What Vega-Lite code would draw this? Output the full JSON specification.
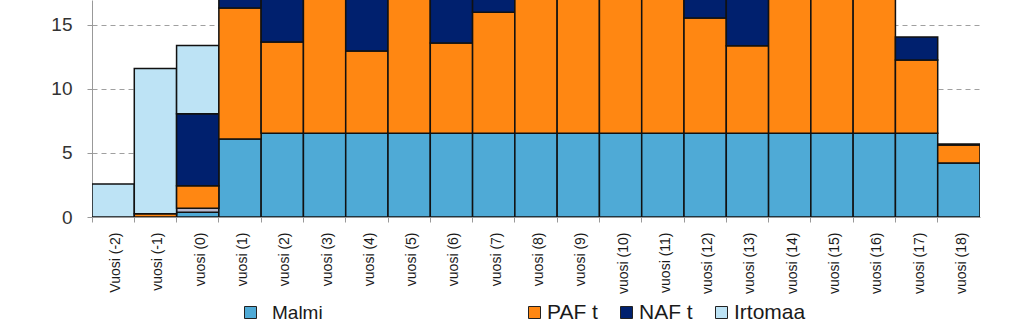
{
  "$schema": "https://vega.github.io/schema/vega-lite/v6.json",
  "width": 888,
  "height": 217,
  "autosize": "none",
  "padding": {"left": 92, "top": 0, "right": 44, "bottom": 118},
  "background": "white",
  "config": {"view": {"stroke": null}, "font": "Liberation Sans"},
  "data": {"values": [
    {"v": "Vuosi (-2)", "s": "Irtomaa", "o": 5, "y": 2.58},
    {"v": "vuosi (-1)", "s": "PAF t", "o": 3, "y": 0.25},
    {"v": "vuosi (-1)", "s": "Irtomaa", "o": 5, "y": 11.35},
    {"v": "vuosi (0)", "s": "Malmi", "o": 1, "y": 0.38},
    {"v": "vuosi (0)", "s": "muu", "o": 2, "y": 0.3},
    {"v": "vuosi (0)", "s": "PAF t", "o": 3, "y": 1.77},
    {"v": "vuosi (0)", "s": "NAF t", "o": 4, "y": 5.62},
    {"v": "vuosi (0)", "s": "Irtomaa", "o": 5, "y": 5.33},
    {"v": "vuosi (1)", "s": "Malmi", "o": 1, "y": 6.09},
    {"v": "vuosi (1)", "s": "PAF t", "o": 3, "y": 10.24},
    {"v": "vuosi (1)", "s": "NAF t", "o": 4, "y": 2.5},
    {"v": "vuosi (2)", "s": "Malmi", "o": 1, "y": 6.54},
    {"v": "vuosi (2)", "s": "PAF t", "o": 3, "y": 7.13},
    {"v": "vuosi (2)", "s": "NAF t", "o": 4, "y": 4.5},
    {"v": "vuosi (3)", "s": "Malmi", "o": 1, "y": 6.54},
    {"v": "vuosi (3)", "s": "PAF t", "o": 3, "y": 12},
    {"v": "vuosi (4)", "s": "Malmi", "o": 1, "y": 6.54},
    {"v": "vuosi (4)", "s": "PAF t", "o": 3, "y": 6.43},
    {"v": "vuosi (4)", "s": "NAF t", "o": 4, "y": 5},
    {"v": "vuosi (5)", "s": "Malmi", "o": 1, "y": 6.54},
    {"v": "vuosi (5)", "s": "PAF t", "o": 3, "y": 12},
    {"v": "vuosi (6)", "s": "Malmi", "o": 1, "y": 6.54},
    {"v": "vuosi (6)", "s": "PAF t", "o": 3, "y": 7.06},
    {"v": "vuosi (6)", "s": "NAF t", "o": 4, "y": 4.5},
    {"v": "vuosi (7)", "s": "Malmi", "o": 1, "y": 6.54},
    {"v": "vuosi (7)", "s": "PAF t", "o": 3, "y": 9.46},
    {"v": "vuosi (7)", "s": "NAF t", "o": 4, "y": 2},
    {"v": "vuosi (8)", "s": "Malmi", "o": 1, "y": 6.54},
    {"v": "vuosi (8)", "s": "PAF t", "o": 3, "y": 12},
    {"v": "vuosi (9)", "s": "Malmi", "o": 1, "y": 6.54},
    {"v": "vuosi (9)", "s": "PAF t", "o": 3, "y": 12},
    {"v": "vuosi (10)", "s": "Malmi", "o": 1, "y": 6.54},
    {"v": "vuosi (10)", "s": "PAF t", "o": 3, "y": 12},
    {"v": "vuosi (11)", "s": "Malmi", "o": 1, "y": 6.54},
    {"v": "vuosi (11)", "s": "PAF t", "o": 3, "y": 12},
    {"v": "vuosi (12)", "s": "Malmi", "o": 1, "y": 6.54},
    {"v": "vuosi (12)", "s": "PAF t", "o": 3, "y": 9.01},
    {"v": "vuosi (12)", "s": "NAF t", "o": 4, "y": 3},
    {"v": "vuosi (13)", "s": "Malmi", "o": 1, "y": 6.54},
    {"v": "vuosi (13)", "s": "PAF t", "o": 3, "y": 6.84},
    {"v": "vuosi (13)", "s": "NAF t", "o": 4, "y": 4},
    {"v": "vuosi (14)", "s": "Malmi", "o": 1, "y": 6.54},
    {"v": "vuosi (14)", "s": "PAF t", "o": 3, "y": 12},
    {"v": "vuosi (15)", "s": "Malmi", "o": 1, "y": 6.54},
    {"v": "vuosi (15)", "s": "PAF t", "o": 3, "y": 12},
    {"v": "vuosi (16)", "s": "Malmi", "o": 1, "y": 6.54},
    {"v": "vuosi (16)", "s": "PAF t", "o": 3, "y": 12},
    {"v": "vuosi (17)", "s": "Malmi", "o": 1, "y": 6.54},
    {"v": "vuosi (17)", "s": "PAF t", "o": 3, "y": 5.73},
    {"v": "vuosi (17)", "s": "NAF t", "o": 4, "y": 1.79},
    {"v": "vuosi (18)", "s": "Malmi", "o": 1, "y": 4.22},
    {"v": "vuosi (18)", "s": "PAF t", "o": 3, "y": 1.41},
    {"v": "vuosi (18)", "s": "NAF t", "o": 4, "y": 0.07}
  ]},
  "transform": [
    {"stack": "y", "groupby": ["v"], "sort": [{"field": "o", "order": "ascending"}], "as": ["y0", "y1"]}
  ],
  "encoding": {
    "x": {
      "field": "v", "type": "nominal",
      "scale": {
        "domain": ["Vuosi (-2)", "vuosi (-1)", "vuosi (0)", "vuosi (1)", "vuosi (2)", "vuosi (3)", "vuosi (4)", "vuosi (5)", "vuosi (6)", "vuosi (7)", "vuosi (8)", "vuosi (9)", "vuosi (10)", "vuosi (11)", "vuosi (12)", "vuosi (13)", "vuosi (14)", "vuosi (15)", "vuosi (16)", "vuosi (17)", "vuosi (18)"],
        "paddingInner": 0, "paddingOuter": 0
      },
      "axis": {
        "title": null, "labelAngle": -90, "labelFontSize": 14, "labelColor": "#1a1a1a",
        "labelPadding": 10, "tickSize": 5, "tickColor": "#999999", "domainColor": "#999999",
        "bandPosition": 0, "labelBaseline": "middle", "labelAlign": "right", "labelOffset": 3
      }
    },
    "y": {
      "field": "y0", "type": "quantitative",
      "scale": {"domain": [0, 16.95], "nice": false, "zero": true},
      "axis": {
        "title": null, "values": [0, 5, 10, 15], "labelFontSize": 19, "labelColor": "#333333",
        "labelPadding": 12, "tickSize": 8, "tickColor": "#999999", "domainColor": "#999999",
        "grid": true, "gridDash": [5, 4], "gridColor": "#a0a0a0", "tickDash": [5, 3]
      }
    },
    "y2": {"field": "y1"}
  },
  "layer": [
    {
      "transform": [{"filter": "datum.o <= 2"}],
      "mark": {"type": "bar", "stroke": "#111111", "strokeWidth": 1.5, "clip": true},
      "encoding": {
        "color": {
          "field": "s", "type": "nominal",
          "scale": {"domain": ["Malmi", "muu"], "range": ["#4FAAD6", "#B8B8CC"]},
          "legend": {
            "title": null, "orient": "none", "direction": "horizontal",
            "legendX": 149, "legendY": 303, "values": ["Malmi"],
            "labelFontSize": 19, "labelColor": "#1a1a1a",
            "symbolType": "square", "symbolSize": 144, "symbolStrokeColor": "#222222",
            "symbolStrokeWidth": 1, "labelOffset": 12
          }
        }
      }
    },
    {
      "transform": [{"filter": "datum.o >= 3"}],
      "mark": {"type": "bar", "stroke": "#111111", "strokeWidth": 1.5, "clip": true},
      "encoding": {
        "color": {
          "field": "s", "type": "nominal",
          "scale": {"domain": ["PAF t", "NAF t", "Irtomaa"], "range": ["#FF8712", "#00206E", "#BDE3F5"]},
          "legend": {
            "title": null, "orient": "none", "direction": "horizontal",
            "legendX": 432, "legendY": 302, "gridAlign": "none", "columnPadding": 18,
            "labelFontSize": 21, "labelColor": "#1a1a1a",
            "symbolType": "square", "symbolSize": 144, "symbolStrokeColor": "#222222",
            "symbolStrokeWidth": 1, "labelOffset": 2
          }
        }
      }
    }
  ],
  "resolve": {"scale": {"color": "independent"}, "legend": {"color": "independent"}}
}
